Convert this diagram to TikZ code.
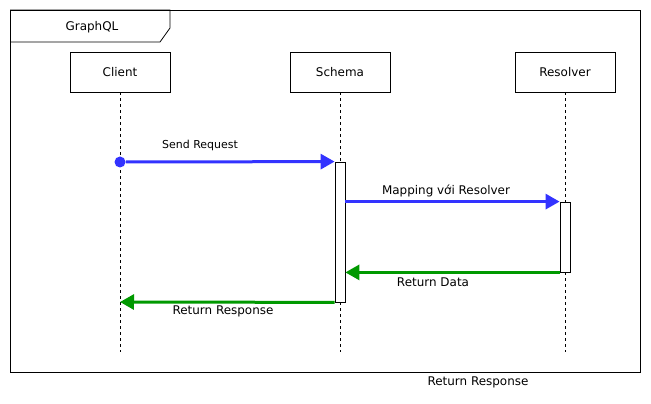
\documentclass[tikz,border=0pt]{standalone}
\usepackage{fontspec}
\setmainfont{DejaVu Sans}
\usetikzlibrary{arrows.meta}
\definecolor{callcol}{HTML}{3333FF}
\definecolor{retcol}{HTML}{009900}
\tikzset{
  actor/.style={draw,rectangle,minimum width=100bp,minimum height=40bp,inner sep=0pt,font=\fontsize{12}{14}\selectfont},
  act/.style={draw,fill=white,rectangle,minimum width=10bp,inner sep=0pt},
  lifeline/.style={dash pattern=on 3bp off 3bp,line width=0.6bp},
  msg/.style={font=\fontsize{12}{14}\selectfont},
  call/.style={callcol,line width=3bp,-{Triangle[length=14bp,width=15bp]}},
  ret/.style={retcol,line width=3bp,-{Triangle[length=14bp,width=15bp]}}
}
\begin{document}
\begin{tikzpicture}[line width=0.8bp]
  \useasboundingbox (0bp,0bp) rectangle (651bp,404bp);
	%%
  \draw (10bp,32bp) rectangle (640bp,394bp);
  \draw (10bp,394bp) -- (170bp,394bp) -- (170bp,376bp) -- (160bp,362bp) -- (10bp,362bp);
  \node (GraphQL) at (92bp,377bp) [msg] {GraphQL};
  \node (Client) at (120bp,332bp) [actor] {Client};
  \node (Schema) at (340bp,332bp) [actor] {Schema};
  \node (Resolver) at (565bp,332bp) [actor] {Resolver};
  \coordinate (ClientEnd) at (120bp,52bp);
  \coordinate (SchemaEnd) at (340bp,52bp);
  \coordinate (ResolverEnd) at (565bp,52bp);
  \draw [lifeline] (Client) -- (ClientEnd);
  \draw [lifeline] (Schema) -- (SchemaEnd);
  \draw [lifeline] (Resolver) -- (ResolverEnd);
  \node (SchemaAct) at (340bp,172bp) [act,minimum height=140bp] {};
  \node (ResolverAct) at (565bp,167bp) [act,minimum height=70bp] {};
  \node (Start) at (120bp,242bp) [circle,fill=callcol,inner sep=0pt,minimum size=11bp] {};
  \coordinate (ClientRet) at (120bp,102bp);
  \draw [call] (Start) -- (SchemaAct.north west);
  \draw (200bp,259bp) node [font=\fontsize{11}{13}\selectfont] {Send Request};
  \draw [call] (SchemaAct.east |- ResolverAct.north) -- (ResolverAct.north west);
  \draw (446bp,213bp) node [msg] {Mapping với Resolver};
  \draw [ret] (ResolverAct.south west) -- (SchemaAct.east |- ResolverAct.south);
  \draw (433bp,122bp) node [msg] {Return Data};
  \draw [ret] (SchemaAct.south west) -- (ClientRet);
  \draw (223bp,93bp) node [msg] {Return Response};
  \node (Footer) at (478bp,22bp) [msg] {Return Response};
	%
\end{tikzpicture}
\end{document}
